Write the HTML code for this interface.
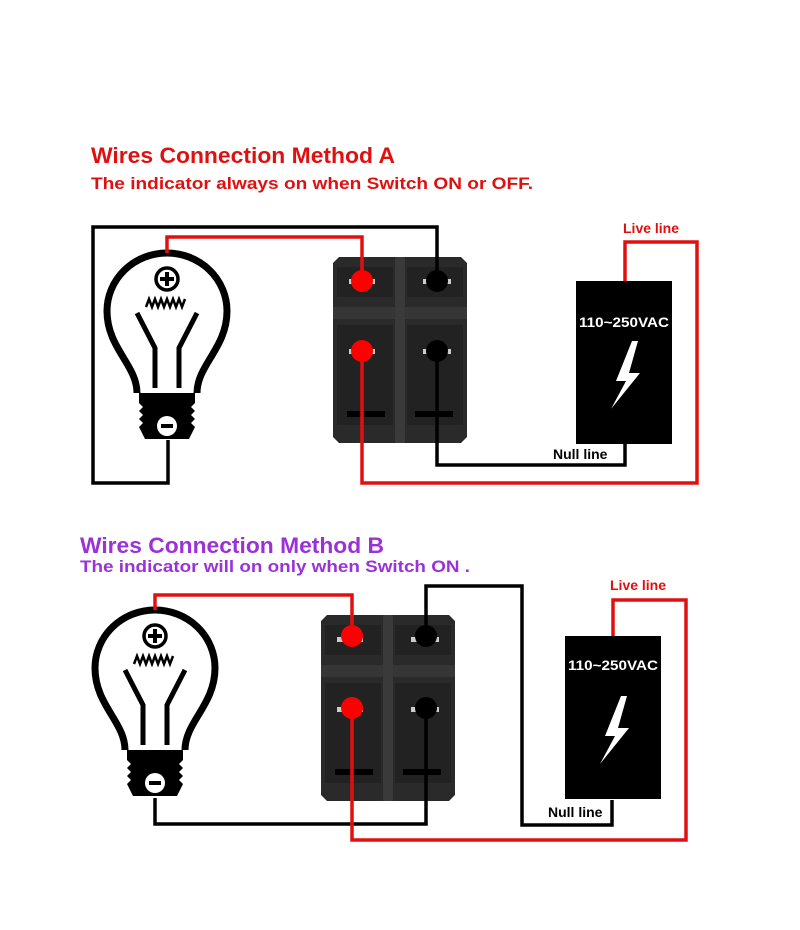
<!DOCTYPE html>
<html><head><meta charset="utf-8"><style>html,body{margin:0;padding:0;background:#fff}svg{display:block}</style></head>
<body>
<svg width="800" height="930" viewBox="0 0 800 930" xmlns="http://www.w3.org/2000/svg" font-family="Liberation Sans, sans-serif" font-weight="bold">
<defs>
<g id="bulb">
  <path d="M-30,140 C-30,112 -60,95 -60,58 A60 58 0 0 1 60,58 C60,95 30,112 30,140" fill="#fff" stroke="#000" stroke-width="7"/>
  <circle cx="0" cy="26" r="11" fill="#fff" stroke="#000" stroke-width="3.5"/>
  <path d="M0,19 V33 M-7,26 H7" stroke="#000" stroke-width="4"/>
  <path d="M-21,54 l3,-8 l3,8 l3,-8 l3,8 l3,-8 l3,8 l3,-8 l3,8 l3,-8 l3,8 l3,-8 l3,8 l3,-8" fill="none" stroke="#000" stroke-width="2.5"/>
  <path d="M-30,60 L-12,95 L-12,135 M30,60 L12,95 L12,135" fill="none" stroke="#000" stroke-width="5"/>
  <path d="M-28,140 H28 V150 L24,154 L28,158 L24,162 L28,166 L24,170 L28,174 L22,186 H-22 L-28,174 L-24,170 L-28,166 L-24,162 L-28,158 L-24,154 L-28,150 Z" fill="#000"/>
  <circle cx="0" cy="173" r="10" fill="#fff"/>
  <rect x="-6" y="171" width="12" height="4" fill="#000"/>
</g>
<g id="sw">
  <path d="M6,0 H128 L134,6 V180 L128,186 H6 L0,180 V6 Z" fill="#2a2a2a"/>
  <rect x="0" y="50" width="134" height="12" fill="#363636"/>
  <rect x="62" y="0" width="10" height="186" fill="#3a3a3a"/>
  <rect x="4" y="10" width="56" height="30" fill="#222"/>
  <rect x="74" y="10" width="56" height="30" fill="#222"/>
  <rect x="4" y="68" width="56" height="100" fill="#222"/>
  <rect x="74" y="68" width="56" height="100" fill="#222"/>
  <rect x="16" y="22" width="26" height="5" fill="#ccc"/>
  <rect x="90" y="22" width="28" height="5" fill="#ccc"/>
  <rect x="16" y="92" width="26" height="5" fill="#ccc"/>
  <rect x="90" y="92" width="28" height="5" fill="#ccc"/>
  <rect x="14" y="154" width="38" height="6" fill="#000"/>
  <rect x="82" y="154" width="38" height="6" fill="#000"/>
</g>
<g id="box">
  <rect x="0" y="0" width="96" height="163" fill="#000"/>
  <path d="M56,60 L40,100 L50,100 L35,128 L64,92 L53,92 L62,60 Z" fill="#fff"/>
</g>
</defs>

<text x="91" y="163" font-size="22" fill="#e01010" textLength="304" lengthAdjust="spacingAndGlyphs">Wires Connection Method A</text>
<text x="91" y="189" font-size="17" fill="#e01010" textLength="442" lengthAdjust="spacingAndGlyphs">The indicator always on when Switch ON or OFF.</text>

<use href="#sw" x="333" y="257"/>
<use href="#bulb" x="167" y="253"/>
<use href="#box" x="576" y="281"/>
<text x="579" y="327" font-size="14" fill="#fff" textLength="90" lengthAdjust="spacingAndGlyphs">110~250VAC</text>
<g fill="none" stroke-width="3.5">
  <path d="M168,440 V483 H93 V227 H437 V281" stroke="#000"/>
  <path d="M167,253 V237 H362 V281" stroke="#e01010"/>
  <path d="M362,351 V483 H697 V242 H625 V281" stroke="#e01010"/>
  <path d="M437,351 V465 H625 V443" stroke="#000"/>
</g>
<circle cx="362" cy="281" r="11" fill="#f00"/>
<circle cx="362" cy="351" r="11" fill="#f00"/>
<circle cx="437" cy="281" r="11" fill="#000"/>
<circle cx="437" cy="351" r="11" fill="#000"/>
<text x="623" y="233" font-size="14" fill="#e01010">Live line</text>
<text x="553" y="459" font-size="14" fill="#000">Null line</text>

<text x="80" y="553" font-size="22" fill="#9a32d8" textLength="304" lengthAdjust="spacingAndGlyphs">Wires Connection Method B</text>
<text x="80" y="572" font-size="17" fill="#9a32d8" textLength="390" lengthAdjust="spacingAndGlyphs">The indicator will on only when Switch ON .</text>

<use href="#sw" x="321" y="615"/>
<use href="#bulb" x="155" y="610"/>
<use href="#box" x="565" y="636"/>
<text x="568" y="670" font-size="14" fill="#fff" textLength="90" lengthAdjust="spacingAndGlyphs">110~250VAC</text>
<g fill="none" stroke-width="3.5">
  <path d="M155,798 V824 H426 V708" stroke="#000"/>
  <path d="M155,610 V595 H352 V636" stroke="#e01010"/>
  <path d="M426,636 V586 H522 V825 H612 V800" stroke="#000"/>
  <path d="M352,708 V840 H686 V600 H613 V636" stroke="#e01010"/>
</g>
<circle cx="352" cy="636" r="11" fill="#f00"/>
<circle cx="352" cy="708" r="11" fill="#f00"/>
<circle cx="426" cy="636" r="11" fill="#000"/>
<circle cx="426" cy="708" r="11" fill="#000"/>
<text x="610" y="590" font-size="14" fill="#e01010">Live line</text>
<text x="548" y="817" font-size="14" fill="#000">Null line</text>
</svg>
</body></html>
